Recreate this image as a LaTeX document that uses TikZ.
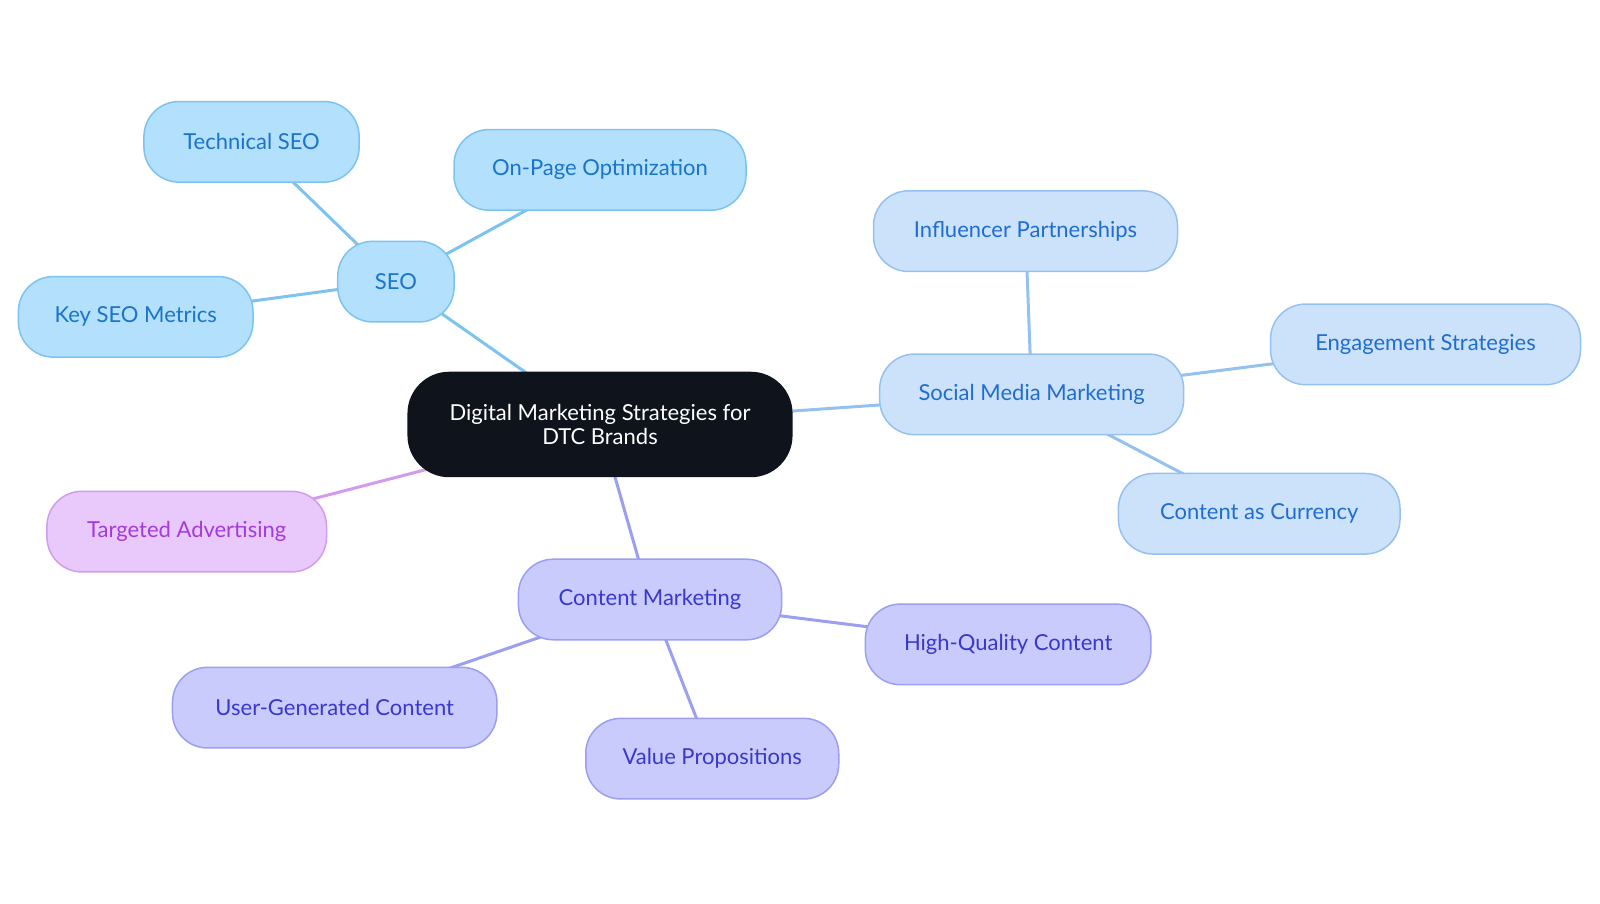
\documentclass[tikz,border=0pt]{standalone}
\usepackage{fontspec}
\setmainfont{Lato}
\usetikzlibrary{backgrounds}
\definecolor{seoF}{HTML}{B3E0FD}
\definecolor{seoB}{HTML}{7CC3F0}
\definecolor{seoT}{HTML}{1A74C9}
\definecolor{smF}{HTML}{CCE2FB}
\definecolor{smB}{HTML}{95C1F0}
\definecolor{smT}{HTML}{1F6DD0}
\definecolor{cmF}{HTML}{C9CBFD}
\definecolor{cmB}{HTML}{9C9EF2}
\definecolor{cmT}{HTML}{3838CC}
\definecolor{taF}{HTML}{E9C9FC}
\definecolor{taB}{HTML}{D39BF0}
\definecolor{taT}{HTML}{A23BDB}
\definecolor{rootF}{HTML}{0F141C}
\tikzset{
  base/.style={rounded corners=17.5pt, line width=0.75pt, minimum height=40.3pt, inner sep=0pt, font=\fontsize{11}{13}\selectfont, align=center},
  seonode/.style={base, fill=seoF, draw=seoB, text=seoT},
  smnode/.style={base, fill=smF, draw=smB, text=smT},
  cmnode/.style={base, fill=cmF, draw=cmB, text=cmT},
  tanode/.style={base, fill=taF, draw=taB, text=taT},
  rootnode/.style={base, fill=rootF, draw=rootF, text=white, minimum height=52pt, minimum width=191.8pt, rounded corners=20.5pt, font=\fontsize{11}{12.2}\selectfont},
  seoedge/.style={draw=seoB, line width=1.5pt},
  smedge/.style={draw=smB, line width=1.5pt},
  cmedge/.style={draw=cmB, line width=1.5pt},
  taedge/.style={draw=taB, line width=1.5pt},
}
\begin{document}
\begin{tikzpicture}[x=0.5102pt,y=-0.5102pt]
\useasboundingbox (0,0) rectangle (1568,885);
\node[rootnode] (root) at (588,416) {Digital Marketing Strategies for\\DTC Brands};
\node[seonode, minimum width=58.2pt] (seo) at (388,276) {SEO};
\node[seonode, minimum width=107.6pt] (tech) at (246.5,139) {Technical SEO};
\node[seonode, minimum width=146pt] (onpage) at (588,166.5) {On-Page Optimization};
\node[seonode, minimum width=117.3pt] (keyseo) at (133,310.5) {Key SEO Metrics};
\node[smnode, minimum width=152pt] (smm) at (1011,386.5) {Social Media Marketing};
\node[smnode, minimum width=152pt] (infl) at (1005,226.5) {Influencer Partnerships};
\node[smnode, minimum width=155pt] (eng) at (1397,337.5) {Engagement Strategies};
\node[smnode, minimum width=140.8pt] (cur) at (1234,503.5) {Content as Currency};
\node[tanode, minimum width=139.8pt] (tad) at (183,521) {Targeted Advertising};
\node[cmnode, minimum width=131.6pt] (cm) at (637,587.5) {Content Marketing};
\node[cmnode, minimum width=142.8pt] (hq) at (988,631.5) {High-Quality Content};
\node[cmnode, minimum width=162.2pt] (ugc) at (328,693.5) {User-Generated Content};
\node[cmnode, minimum width=126.5pt] (vp) at (698,743.5) {Value Propositions};
\begin{scope}[on background layer]
\draw[seoedge] (root.center) -- (seo.center);
\draw[seoedge] (seo.center) -- (tech.center);
\draw[seoedge] (seo.center) -- (onpage.center);
\draw[seoedge] (seo.center) -- (keyseo.center);
\draw[smedge] (root.center) -- (smm.center);
\draw[smedge] (smm.center) -- (infl.center);
\draw[smedge] (smm.center) -- (eng.center);
\draw[smedge] (smm.center) -- (cur.center);
\draw[taedge] (root.center) -- (tad.center);
\draw[cmedge] (root.center) -- (cm.center);
\draw[cmedge] (cm.center) -- (hq.center);
\draw[cmedge] (cm.center) -- (ugc.center);
\draw[cmedge] (cm.center) -- (vp.center);
\end{scope}
\end{tikzpicture}
\end{document}
